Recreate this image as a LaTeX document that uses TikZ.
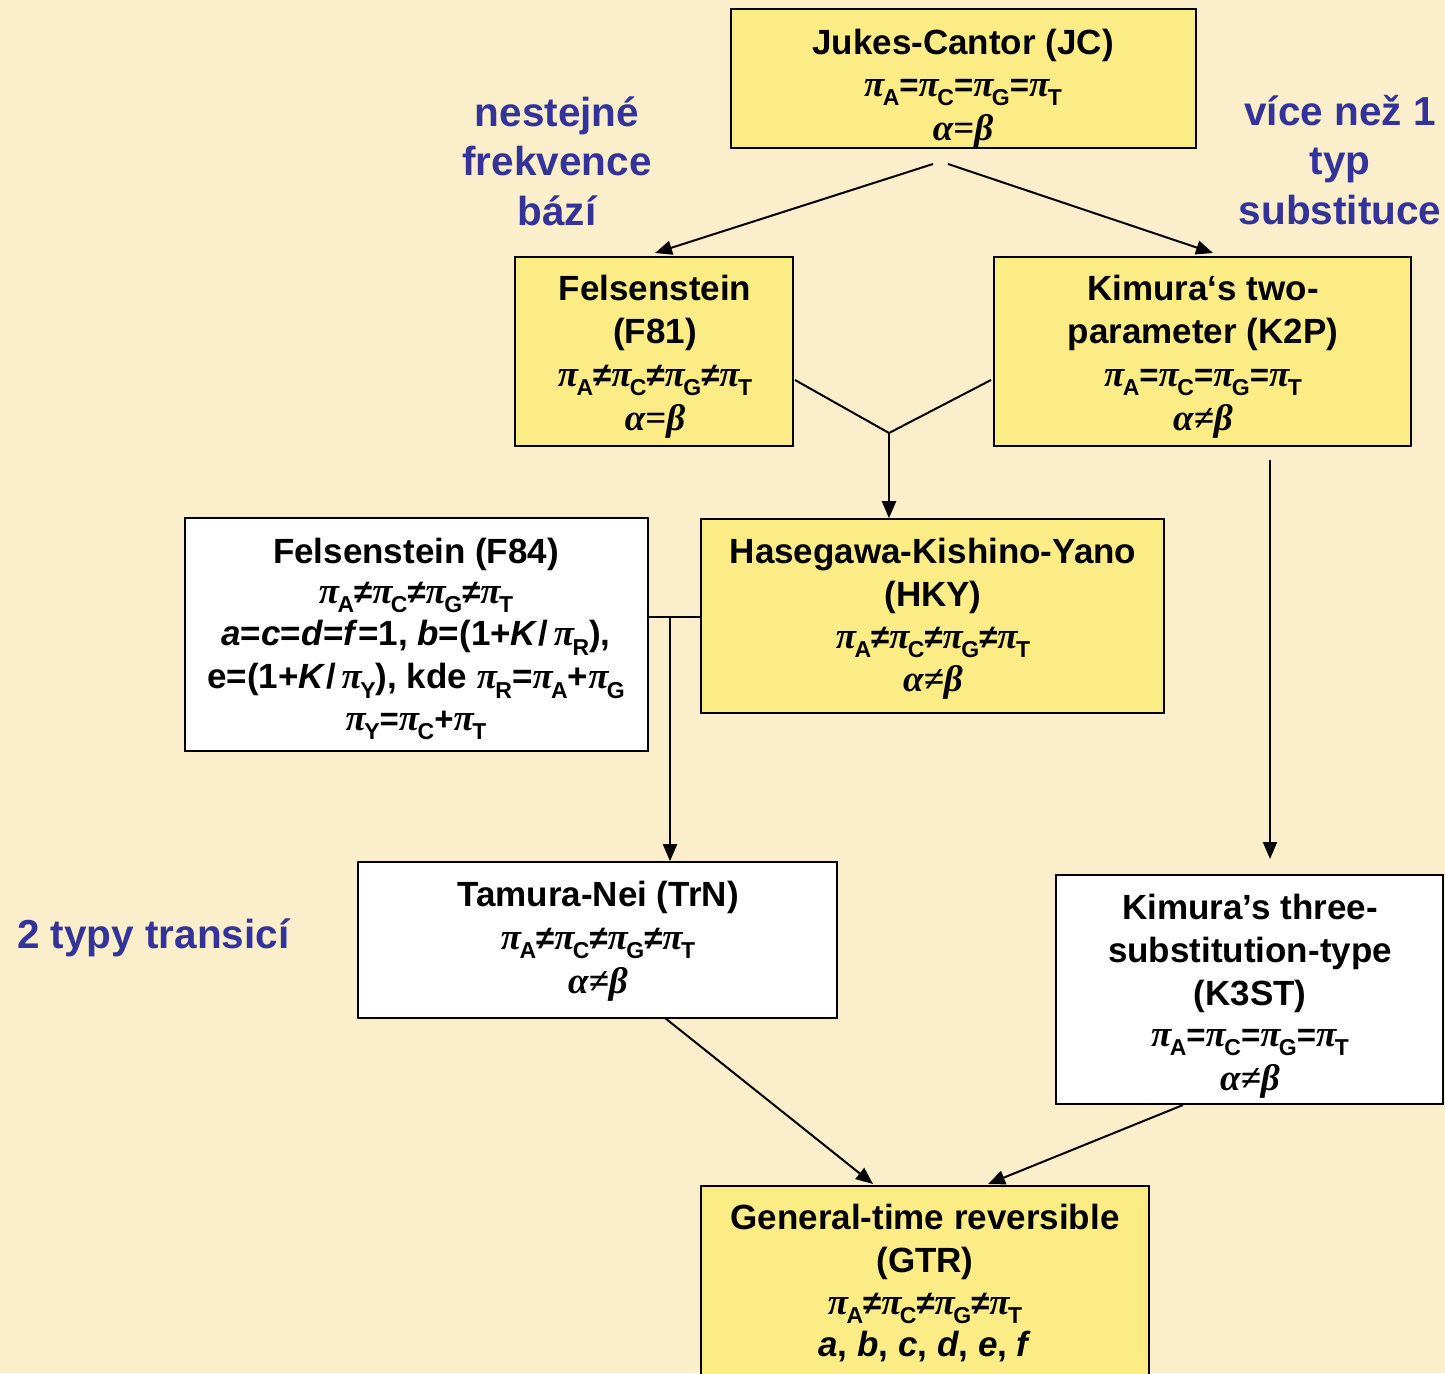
\documentclass[tikz,border=0pt]{standalone}
\usepackage{fontspec}
\setmainfont{Liberation Sans}
\newfontfamily\grk{Liberation Serif}
\usetikzlibrary{arrows.meta}
\definecolor{bg}{RGB}{250,238,203}
\definecolor{boxy}{RGB}{252,236,134}
\definecolor{lblue}{RGB}{51,51,153}
\newcommand\gr[1]{{\grk\bfseries\itshape\fontsize{37}{40}\selectfont #1}}
\newcommand\sbx[1]{\raisebox{-0.28em}{\fontsize{23}{23}\selectfont\bfseries #1}}
\newcommand\pp[1]{\gr{π}\kern-1.5pt\sbx{#1}}
\newcommand\fm{\fontsize{33}{40}\selectfont}
\newcommand\ii[1]{\textit{#1}}
\begin{document}
\begin{tikzpicture}[x=1pt,y=-1pt,
  box/.style={draw=black, line width=1.6pt, inner sep=0pt},
  ybox/.style={box, fill=boxy},
  wbox/.style={box, fill=white},
  txt/.style={align=center, inner sep=0pt, font=\fontsize{35}{43}\selectfont\bfseries},
  conn/.style={line width=2pt, draw=black},
  arr/.style={conn, -{Triangle[length=17pt,width=14pt]}},
  lbl/.style={text=lblue, align=center, inner sep=0pt, font=\fontsize{40.5}{49.5}\selectfont\bfseries}]
\useasboundingbox (0,0) rectangle (1445,1373);
\clip (0,0) rectangle (1445,1373);
\fill[bg] (0,0) rectangle (1445,1373);

% boxes
\node[ybox, minimum width=465, minimum height=139] (jc) at (963.5,78.5) {};
\node[ybox, minimum width=278, minimum height=189] (f81) at (654,351.5) {};
\node[ybox, minimum width=417, minimum height=189] (k2p) at (1202.5,351.5) {};
\node[wbox, minimum width=463, minimum height=233] (f84) at (416.5,634.5) {};
\node[ybox, minimum width=463, minimum height=194] (hky) at (932.5,616) {};
\node[wbox, minimum width=479, minimum height=156] (trn) at (597.5,940) {};
\node[wbox, minimum width=387, minimum height=229] (k3st) at (1249.5,989.5) {};
\node[ybox, minimum width=448, minimum height=260, anchor=north] (gtr) at (925,1185) {};

% texts
\node[txt] (jct) at (963,89) {Jukes-Cantor (JC)\\[-1pt]
  {\fm \pp{A}=\pp{C}=\pp{G}=\pp{T}}\\[1pt] {\fm\gr{α=β}}};
\node[txt] (f81t) at (655,357) {Felsenstein\\ (F81)\\[0pt]
  {\fm \pp{A}≠\pp{C}≠\pp{G}≠\pp{T}}\\[1pt] {\fm\gr{α=β}}};
\node[txt] (k2pt) at (1203,357) {Kimura‘s two-\\ parameter (K2P)\\[0pt]
  {\fm \pp{A}=\pp{C}=\pp{G}=\pp{T}}\\[1pt] {\fm\gr{α≠β}}};
\node[txt] (f84t) at (416,639) {Felsenstein (F84)\\[-3pt]
  {\fm \pp{A}≠\pp{C}≠\pp{G}≠\pp{T}}\\[-1pt]
  \ii{a}=\ii{c}=\ii{d}=\ii{f}=1, \ii{b}=(1+\ii{K}/\,\pp{R}),\\[0pt]
  e=(1+\ii{K}/\,\pp{Y}), kde \pp{R}=\pp{A}+\pp{G}\\[-1pt]
  {\fm \pp{Y}=\pp{C}+\pp{T}}};
\node[txt] (hkyt) at (933,619) {Hasegawa-Kishino-Yano\\ (HKY)\\[-1pt]
  {\fm \pp{A}≠\pp{C}≠\pp{G}≠\pp{T}}\\[0pt] {\fm\gr{α≠β}}};
\node[txt] (trnt) at (598,941) {Tamura-Nei (TrN)\\[0pt]
  {\fm \pp{A}≠\pp{C}≠\pp{G}≠\pp{T}}\\[1pt] {\fm\gr{α≠β}}};
\node[txt] (k3stt) at (1250,996) {Kimura’s three-\\ substitution-type\\ (K3ST)\\[-2pt]
  {\fm \pp{A}=\pp{C}=\pp{G}=\pp{T}}\\[1pt] {\fm\gr{α≠β}}};
\node[txt] (gtrt) at (925,1283) {General-time reversible\\ (GTR)\\[-1pt]
  {\fm \pp{A}≠\pp{C}≠\pp{G}≠\pp{T}}\\[-1pt] \ii{a}, \ii{b}, \ii{c}, \ii{d}, \ii{e}, \ii{f}};

% labels
\node[lbl] (l1) at (557,161) {nestejné\\ frekvence\\ bází};
\node[lbl] (l2) at (1340,160) {více než 1\\ typ\\ substituce};
\node[lbl, anchor=west] (l3) at (17,938) {2 typy transicí};

% connector points
\coordinate (jcl) at (933,164);
\coordinate (jcr) at (948,164);
\coordinate (f81r) at (795,380);
\coordinate (k2pl) at (991,380);
\coordinate (mrg) at (889,433);
\coordinate (f84r) at (f84.east |- 0,617);
\coordinate (hkyl) at (hky.west |- 0,617);
\coordinate (jn) at (670,617);
\coordinate (k2pb) at (1270,460);
\coordinate (trnb) at (665,1018);
\coordinate (k3stb) at (1183,1105);

\draw[arr] (jcl) -- (655,253);
\draw[arr] (jcr) -- (1213,253);
\draw[conn] (f81r) -- (mrg) -- (k2pl);
\draw[arr] (mrg) -- (mrg |- hky.north);
\draw[conn] (f84r) -- (hkyl);
\draw[arr] (jn) -- (jn |- trn.north);
\draw[arr] (k2pb) -- (1270,859);
\draw[arr] (trnb) -- (873,1184);
\draw[arr] (k3stb) -- (988,1184);
\end{tikzpicture}
\end{document}
